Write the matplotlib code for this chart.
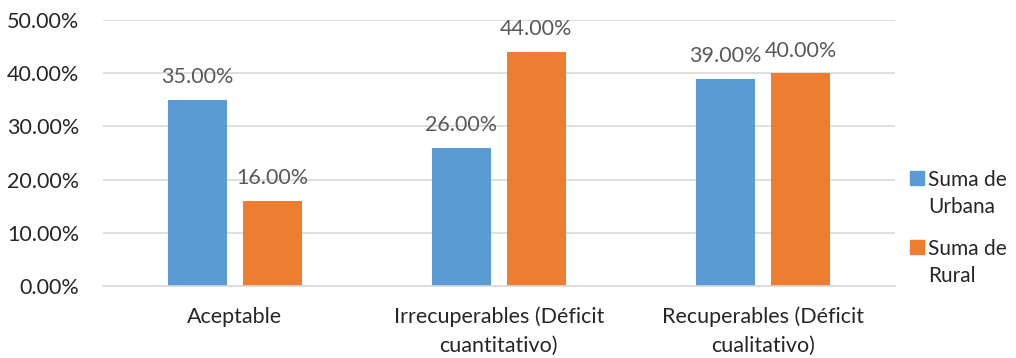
import numpy as np
import matplotlib.pyplot as plt
from matplotlib.patches import Rectangle

categories = ["Aceptable", "Irrecuperables (Déficit\ncuantitativo)", "Recuperables (Déficit\ncualitativo)"]
urbana = [0.35, 0.26, 0.39]
rural = [0.16, 0.44, 0.40]
series_names = ["Suma de\nUrbana", "Suma de\nRural"]
yticks = [0.0, 0.1, 0.2, 0.3, 0.4, 0.5]

BLUE = "#5B9BD5"
ORANGE = "#ED7D31"
GRID = "#D9D9D9"

plt.rcParams['font.family'] = ['Lato', 'DejaVu Sans']
FS = 15.5

W, H = 1016, 358
fig = plt.figure(figsize=(W / 100, H / 100), dpi=100)
ax = fig.add_axes([0.101, 0.201, 0.78, 0.743])

x = np.arange(len(categories))
w = 0.224
off = 0.142
b1 = ax.bar(x - off, urbana, w, color=BLUE, zorder=2)
b2 = ax.bar(x + off, rural, w, color=ORANGE, zorder=2)

for bars, vals in ((b1, urbana), (b2, rural)):
    for r, v in zip(bars, vals):
        ax.annotate(f"{v * 100:.2f}%", (r.get_x() + r.get_width() / 2, v),
                    xytext=(0, 9), textcoords="offset points",
                    ha="center", va="bottom", fontsize=FS, color="#595959")

ax.set_xlim(-0.5, 2.5)
ax.set_ylim(0, 0.5)
ax.set_yticks(yticks)
ax.set_yticklabels([f"{t * 100:.2f}%" for t in yticks])
ax.set_xticks(x)
ax.set_xticklabels(categories, linespacing=1.5)
ax.yaxis.grid(True, color=GRID, linewidth=1.2, zorder=0)
ax.set_axisbelow(True)
for s in ("top", "right", "left"):
    ax.spines[s].set_visible(False)
ax.spines["bottom"].set_color(GRID)
ax.spines["bottom"].set_linewidth(1.2)
ax.tick_params(axis="both", length=0, labelsize=FS, colors="#262626")
ax.tick_params(axis="y", pad=17)
ax.tick_params(axis="x", pad=15)

# legend drawn by hand so the wrapped labels get Excel-like spacing
legend_y = [178, 247]
for name, color, yc in zip(series_names, (BLUE, ORANGE), legend_y):
    fig.patches.append(Rectangle((910 / W, 1 - (yc + 7) / H), 14 / W, 14 / H,
                                 transform=fig.transFigure, color=color))
    for k, line in enumerate(name.split("\n")):
        fig.text(928 / W, 1 - (yc + 2 + 27 * k) / H, line, fontsize=FS - 0.5,
                 color="#262626", va="center", ha="left")

fig.savefig("out.png", dpi=100)
